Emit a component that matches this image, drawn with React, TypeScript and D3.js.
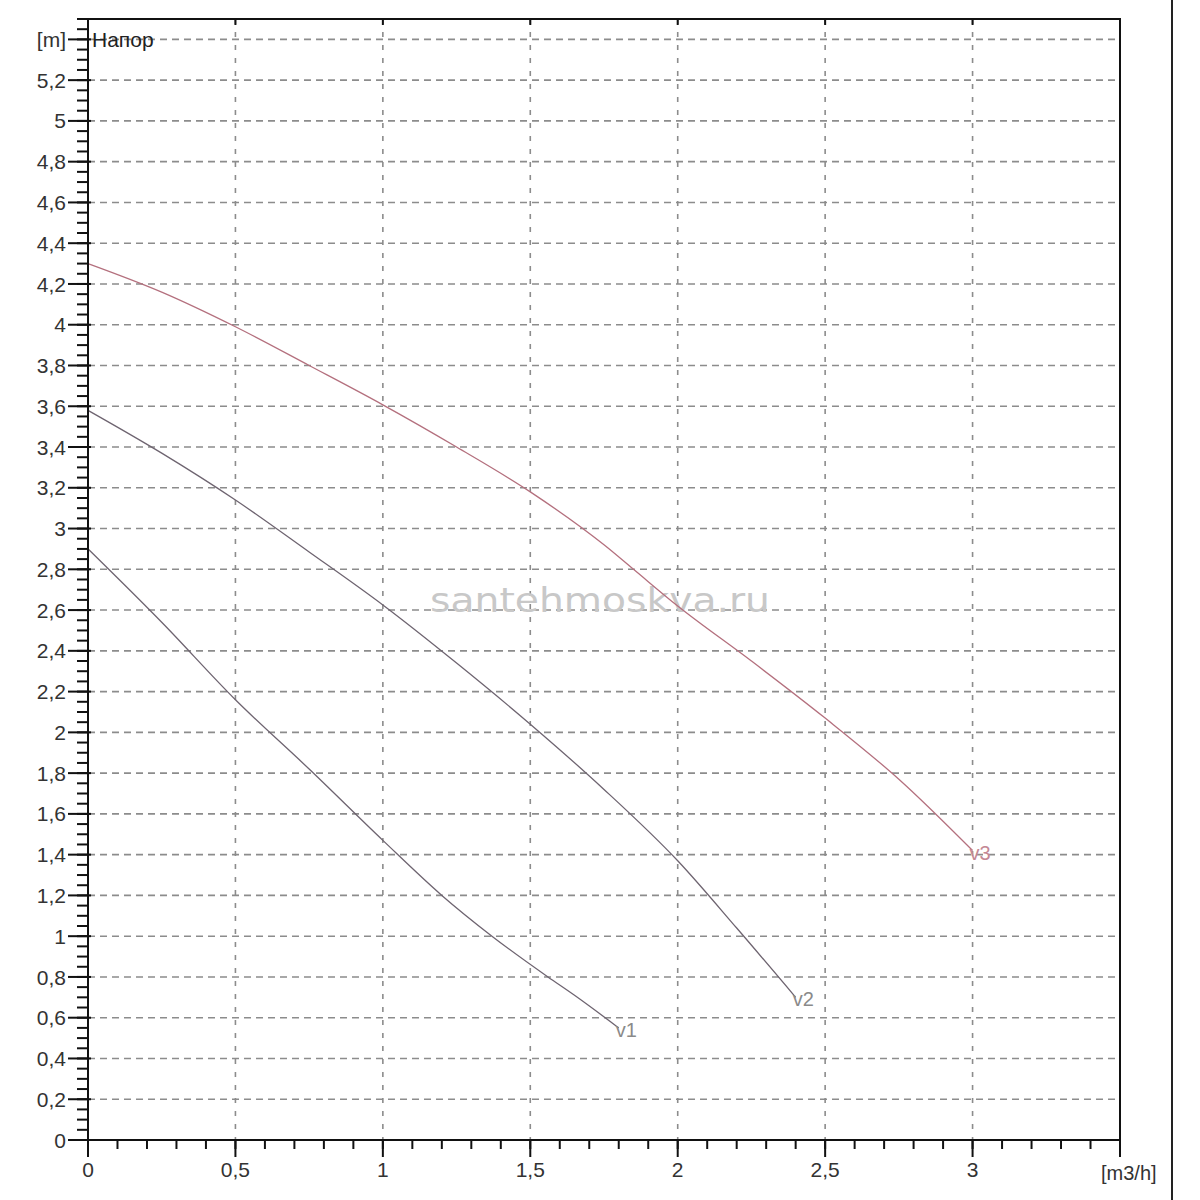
import React, { useEffect, useRef } from 'react';
import * as d3 from 'd3';

// Напорные характеристики (скорости v1, v2, v3)
const flowV1 = [0, 0.25, 0.5, 0.75, 1.0, 1.2, 1.37, 1.56, 1.65, 1.8];
const headV1 = [2.9, 2.54, 2.16, 1.82, 1.47, 1.2, 1.0, 0.8, 0.71, 0.55];

const flowV2 = [0, 0.25, 0.5, 0.75, 1.0, 1.25, 1.5, 1.75, 2.0, 2.2, 2.4];
const headV2 = [3.58, 3.37, 3.14, 2.885, 2.625, 2.34, 2.04, 1.72, 1.37, 1.04, 0.7];

const flowV3 = [0, 0.25, 0.5, 0.75, 1.0, 1.25, 1.5, 1.75, 1.85, 2.0, 2.25, 2.5, 2.75, 3.0];
const headV3 = [4.3, 4.16, 3.99, 3.8, 3.607, 3.4, 3.18, 2.92, 2.8, 2.62, 2.35, 2.07, 1.77, 1.42];

const seriesNames = ['v1', 'v2', 'v3'];
const seriesColors = ['#6e6470', '#6e6470', '#b4707e'];
const labelColors = ['#8a8a8a', '#8a8a8a', '#c48894'];

const xTicks = [0, 0.5, 1, 1.5, 2, 2.5, 3];
const yTicks = d3.range(0, 28).map(i => +(i * 0.2).toFixed(1));

const fmt = (v: number) => String(v).replace('.', ',');

export default function App() {
  const svgRef = useRef<SVGSVGElement>(null);

  useEffect(() => {
    if (!svgRef.current) return;
    const svg = d3.select(svgRef.current);
    svg.selectAll('*').remove();

    const left = 88, right = 1120, top = 19, bottom = 1140;
    const x = d3.scaleLinear().domain([0, 3.5]).range([left, right]);
    const y = d3.scaleLinear().domain([0, 5.5]).range([bottom, top]);
    const font = 'Liberation Sans, Arial, sans-serif';

    svg.append('rect').attr('width', 1200).attr('height', 1200).attr('fill', '#fff');

    // сетка
    const grid = svg.append('g');
    grid.selectAll('.hg')
      .data(yTicks.filter(d => d > 0))
      .join('line')
      .attr('x1', left).attr('x2', right)
      .attr('y1', d => y(d)).attr('y2', d => y(d))
      .attr('stroke', '#8c8c8c').attr('stroke-width', 1.6)
      .attr('stroke-dasharray', '7,5');
    grid.selectAll('.vg')
      .data(xTicks.filter(d => d > 0))
      .join('line')
      .attr('x1', d => x(d)).attr('x2', d => x(d))
      .attr('y1', top).attr('y2', bottom)
      .attr('stroke', '#8c8c8c').attr('stroke-width', 1.6)
      .attr('stroke-dasharray', '5,8');

    // водяной знак
    svg.append('text')
      .attr('x', 430).attr('y', 612)
      .attr('textLength', 340)
      .attr('lengthAdjust', 'spacingAndGlyphs')
      .attr('font-family', 'DejaVu Sans, Verdana, sans-serif')
      .attr('font-size', 34)
      .attr('fill', '#c8c8c8')
      .text('santehmoskva.ru');

    // кривые
    const allFlow = [flowV1, flowV2, flowV3];
    const allHead = [headV1, headV2, headV3];
    const line = d3.line<[number, number]>()
      .x(d => x(d[0])).y(d => y(d[1]))
      .curve(d3.curveMonotoneX);

    allFlow.forEach((fl, i) => {
      const pts: [number, number][] = fl.map((f, j) => [f, allHead[i][j]]);
      svg.append('path')
        .attr('d', line(pts))
        .attr('fill', 'none')
        .attr('stroke', seriesColors[i])
        .attr('stroke-width', 1.3);
      const last = pts[pts.length - 1];
      svg.append('text')
        .attr('x', x(last[0]) - 3)
        .attr('y', y(last[1]) + 9)
        .attr('font-family', font)
        .attr('font-size', 20)
        .attr('fill', labelColors[i])
        .text(seriesNames[i]);
    });

    // рамка
    svg.append('rect')
      .attr('x', left).attr('y', top)
      .attr('width', right - left).attr('height', bottom - top)
      .attr('fill', 'none').attr('stroke', '#111').attr('stroke-width', 2);

    // ось Y
    const yMinor = d3.range(0, 111).map(i => i * 0.05);
    svg.append('g').selectAll('line')
      .data(yMinor)
      .join('line')
      .attr('x1', left - 11).attr('x2', left)
      .attr('y1', d => y(d)).attr('y2', d => y(d))
      .attr('stroke', '#111').attr('stroke-width', 2);
    svg.append('g').selectAll('line')
      .data(yTicks)
      .join('line')
      .attr('x1', left - 20).attr('x2', left + 3)
      .attr('y1', d => y(d)).attr('y2', d => y(d))
      .attr('stroke', '#111').attr('stroke-width', 2);
    svg.append('g').selectAll('text')
      .data(yTicks)
      .join('text')
      .attr('x', left - 22)
      .attr('y', d => y(d))
      .attr('dy', '0.36em')
      .attr('text-anchor', 'end')
      .attr('font-family', font)
      .attr('font-size', 21)
      .attr('fill', '#333')
      .text(d => (d === 5.4 ? '[m]' : fmt(d)));

    svg.append('text')
      .attr('x', left + 4).attr('y', y(5.4))
      .attr('dy', '0.36em')
      .attr('font-family', font)
      .attr('font-size', 21)
      .attr('fill', '#222')
      .text('Напор');

    // ось X
    const xMinor = d3.range(0, 36).map(i => i * 0.1);
    svg.append('g').selectAll('line')
      .data(xMinor)
      .join('line')
      .attr('x1', d => x(d)).attr('x2', d => x(d))
      .attr('y1', bottom).attr('y2', bottom + 9)
      .attr('stroke', '#111').attr('stroke-width', 2);
    svg.append('g').selectAll('line')
      .data([...xTicks, 3.5])
      .join('line')
      .attr('x1', d => x(d)).attr('x2', d => x(d))
      .attr('y1', top).attr('y2', d => (d === 3.5 ? bottom + 17 : top + 6))
      .attr('stroke', '#111').attr('stroke-width', 2);
    svg.append('g').selectAll('line')
      .data(xTicks)
      .join('line')
      .attr('x1', d => x(d)).attr('x2', d => x(d))
      .attr('y1', bottom).attr('y2', bottom + 17)
      .attr('stroke', '#111').attr('stroke-width', 2);
    svg.append('g').selectAll('text')
      .data(xTicks)
      .join('text')
      .attr('x', d => x(d))
      .attr('y', bottom + 37)
      .attr('text-anchor', 'middle')
      .attr('font-family', font)
      .attr('font-size', 21)
      .attr('fill', '#333')
      .text(d => fmt(d));
    svg.append('text')
      .attr('x', 1101).attr('y', bottom + 40)
      .attr('font-family', font)
      .attr('font-size', 20)
      .attr('fill', '#333')
      .text('[m3/h]');

    // правая граница изображения
    svg.append('line')
      .attr('x1', 1172).attr('x2', 1172)
      .attr('y1', 0).attr('y2', 1200)
      .attr('stroke', '#222').attr('stroke-width', 2);
  }, []);

  return (
    <svg
      ref={svgRef}
      width={1200}
      height={1200}
      style={{ position: 'absolute', left: 0, top: 0, display: 'block' }}
    />
  );
}
